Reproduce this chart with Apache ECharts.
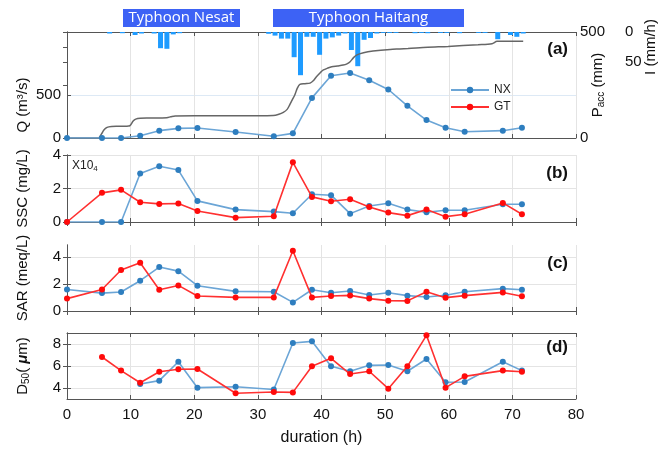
<!DOCTYPE html>
<html>
<head>
<meta charset="utf-8">
<script src="https://cdn.jsdelivr.net/npm/echarts@6/dist/echarts.min.js"></script>
<style>
  html, body { margin: 0; padding: 0; background: #fff; }
  #main { width: 666px; height: 449px; }
</style>
</head>
<body>
<div id="main"></div>
<script>
// sampling times (h)
var timeH = [0, 5.5, 8.5, 11.5, 14.5, 17.5, 20.5, 26.5, 32.5, 35.5, 38.5, 41.5, 44.5, 47.5, 50.5, 53.5, 56.5, 59.5, 62.5, 68.5, 71.5];

// (a) discharge at NX
var qNX = [0, 0, 0, 27, 85, 112, 116, 69, 20, 54, 465, 722, 754, 670, 562, 373, 208, 119, 73, 85, 119];

// (b) SSC x10^4 mg/L
var sscNX = [0, 0, 0, 2.9, 3.33, 3.1, 1.26, 0.74, 0.62, 0.52, 1.66, 1.6, 0.5, 0.96, 1.12, 0.74, 0.58, 0.7, 0.7, 1.06, 1.06];
var sscGT = [0, 1.74, 1.92, 1.18, 1.08, 1.1, 0.66, 0.26, 0.34, 3.56, 1.5, 1.24, 1.36, 0.9, 0.56, 0.38, 0.74, 0.32, 0.46, 1.14, 0.46];

// (c) SAR meq/L
var sarNX = [1.6, 1.33, 1.41, 2.25, 3.26, 2.96, 1.88, 1.46, 1.43, 0.64, 1.58, 1.36, 1.48, 1.19, 1.36, 1.14, 1.04, 1.17, 1.43, 1.66, 1.58];
var sarGT = [0.92, 1.6, 3.04, 3.58, 1.58, 1.9, 1.11, 1.01, 1.01, 4.47, 1.01, 1.11, 1.16, 0.92, 0.77, 0.75, 1.43, 0.99, 1.14, 1.38, 1.09];

// (d) D50 um
var d50NX = [null, null, null, 4.36, 4.67, 6.39, 4.03, 4.12, 3.87, 8.09, 8.24, 5.97, 5.52, 6.06, 6.09, 5.52, 6.64, 4.52, 4.55, 6.39, 5.58];
var d50GT = [null, 6.82, 5.58, 4.48, 5.48, 5.7, 5.73, 3.52, 3.64, 3.6, 5.97, 6.7, 5.27, 5.52, 3.94, 5.97, 8.79, 4.03, 5.06, 5.58, 5.48];

// rainfall intensity (mm/h), hourly bars
var rainT = [6.7, 8.7, 10.7, 11.7, 13.7, 14.7, 15.7, 16.7, 17.7, 31.7, 32.7, 33.7, 34.7, 35.7, 36.7, 37.7, 38.7, 39.7, 40.7, 41.7, 42.7, 43.7, 44.7, 45.7, 46.7, 47.7, 48.7, 49.7, 50.7, 51.7, 54.7, 55.7, 56.7, 58.7, 59.7, 61.7, 64.7, 65.7, 67.7, 69.7, 70.7, 71.7];
var rainI = [2.5, 2, 5, 2.5, 2.5, 27, 28, 4, 2, 3, 6, 11, 11, 42, 72, 8, 8, 38, 11, 9, 6, 2.5, 30, 57, 13, 10, 2.5, 1.5, 1.5, 1.5, 2, 1.5, 2, 1.5, 1.5, 2, 1.5, 1.5, 12, 5, 8, 2.5];

// accumulated precipitation (mm)
var paccT = [0, 4.9, 5.4, 5.8, 6.3, 7, 8, 9.5, 9.9, 10.4, 10.8, 11.5, 13, 15.7, 16.3, 17, 20, 25, 30, 32.4, 33.3, 34, 34.6, 35, 35.4, 35.8, 36.2, 36.6, 37.4, 38.2, 38.7, 39.2, 39.8, 40.3, 41, 41.6, 42.5, 43.4, 44, 44.5, 45, 45.5, 46.6, 48.1, 50.8, 52.3, 53.6, 56.7, 59.9, 64.6, 66.8, 67.6, 71.7];
var paccV = [0, 0, 18, 38, 50, 54, 55, 56, 58, 80, 89, 93, 94, 96, 100, 104, 105, 105, 105, 106, 112, 121, 135, 156, 180, 203, 235, 253, 256, 259, 270, 289, 308, 321, 330, 336, 340, 344, 350, 360, 378, 391, 402, 410, 418, 420, 422, 428, 432, 440, 445, 456, 456];

function pairs(xs, ys) {
    var out = [];
    for (var i = 0; i < xs.length; i++) out.push([xs[i], ys[i]]);
    return out;
}

var FONT = 'Liberation Sans';
var FRAME = '#555';
var GRIDC = '#e4e4e4';
var L = 67, W = 509;

function bottomX(grid, labels) {
    return {
        type: 'value', gridIndex: grid, min: 0, max: 80, interval: 10,
        axisLine: { show: true, lineStyle: { color: FRAME, width: 1 } },
        axisTick: { show: true, inside: true, length: 4, lineStyle: { color: FRAME } },
        axisLabel: { show: labels, color: '#111', fontSize: 15, fontFamily: FONT, margin: 8 },
        splitLine: { show: true, lineStyle: { color: GRIDC } }
    };
}
function topX(grid) {
    return {
        type: 'value', gridIndex: grid, position: 'top', min: 0, max: 80, interval: 10,
        axisLine: { show: true, lineStyle: { color: FRAME } },
        axisTick: { show: true, inside: true, length: 4, lineStyle: { color: FRAME } },
        axisLabel: { show: false }, splitLine: { show: false }
    };
}
function leftY(grid, min, max, vals, name) {
    return {
        type: 'value', gridIndex: grid, position: 'left', min: min, max: max,
        name: name, nameLocation: 'middle', nameGap: 37, nameMoveOverlap: false,
        nameTextStyle: { fontSize: 15, color: '#111', fontFamily: FONT },
        axisLine: { show: true, lineStyle: { color: FRAME } },
        axisTick: { show: true, inside: true, length: 4, customValues: vals, lineStyle: { color: FRAME } },
        axisLabel: { customValues: vals, color: '#111', fontSize: 15, fontFamily: FONT, margin: 6 },
        splitLine: { show: true, lineStyle: { color: GRIDC } }
    };
}
function rightY(grid, min, max, vals) {
    return {
        type: 'value', gridIndex: grid, position: 'right', min: min, max: max,
        axisLine: { show: true, lineStyle: { color: FRAME } },
        axisTick: { show: true, inside: true, length: 4, customValues: vals, lineStyle: { color: FRAME } },
        axisLabel: { show: false }, splitLine: { show: false }
    };
}
function lineSeries(name, xi, yi, ys) {
    var red = name === 'GT';
    return {
        name: name, type: 'line', xAxisIndex: xi, yAxisIndex: yi,
        data: pairs(timeH, ys), symbol: 'circle', symbolSize: 6,
        lineStyle: { color: red ? '#ff3030' : '#6ba5d6', width: 1.6 },
        itemStyle: { color: red ? '#ff0a0a' : '#2e7ebf' },
        z: red ? 4 : 3
    };
}
function tag(txt, y) {
    return {
        type: 'text', x: 568, y: y, z: 100,
        style: { text: txt, fill: '#111', font: 'bold 17px "Liberation Sans"', align: 'right', verticalAlign: 'middle' }
    };
}

var chart = echarts.init(document.getElementById('main'));
var option = {
    animation: false,
    backgroundColor: '#fff',
    textStyle: { fontFamily: FONT },
    legend: {
        data: ['NX', 'GT'], orient: 'vertical', left: 445, top: 79,
        itemWidth: 38, itemHeight: 8, itemGap: 5,
        textStyle: { fontSize: 12, color: '#222', fontFamily: FONT }
    },
    grid: [
        { left: L, width: W, top: 32, height: 106 },   // (a) Pacc
        { left: L, width: W, top: 72, height: 66 },    // (a) Q
        { left: L, width: W, top: 32, height: 30 },    // (a) I
        { left: L, width: W, top: 155, height: 67 },   // (b)
        { left: L, width: W, top: 245, height: 66 },   // (c)
        { left: L, width: W, top: 333, height: 66 }    // (d)
    ],
    xAxis: [
        bottomX(0, false), topX(0),
        { type: 'value', gridIndex: 1, min: 0, max: 80, show: false },
        { type: 'value', gridIndex: 2, min: 0, max: 80, show: false },
        bottomX(3, false), topX(3),
        bottomX(4, false), topX(4),
        Object.assign(bottomX(5, true), {
            name: 'duration (h)', nameLocation: 'middle', nameGap: 31, nameMoveOverlap: false,
            nameTextStyle: { fontSize: 16, color: '#111', fontFamily: FONT }
        }),
        topX(5)
    ],
    yAxis: [
        // 0: Pacc (right)
        {
            type: 'value', gridIndex: 0, position: 'right', min: 0, max: 500,
            name: '{a|P}{b|acc}{a| (mm)}', nameLocation: 'middle', nameGap: 14, nameMoveOverlap: false,
            nameTextStyle: {
                rich: {
                    a: { fontSize: 15, color: '#111', fontFamily: FONT },
                    b: { fontSize: 10, color: '#111', fontFamily: FONT, padding: [0, 0, -8, 0] }
                }
            },
            axisLine: { show: true, lineStyle: { color: FRAME } },
            axisTick: { show: true, inside: true, length: 4, customValues: [0, 250, 500], lineStyle: { color: FRAME } },
            axisLabel: { customValues: [0, 500], color: '#111', fontSize: 15, fontFamily: FONT, margin: 4 },
            splitLine: { show: false }
        },
        // 1: Q (left)
        Object.assign(leftY(1, 0, 765, [0, 500], 'Q (m³/s)'), {
            splitLine: { show: true, lineStyle: { color: '#dde9f5' } }
        }),
        // 2: I (reversed, far right)
        {
            type: 'value', gridIndex: 2, position: 'right', offset: 46, inverse: true, min: 0, max: 50,
            name: 'I (mm/h)', nameLocation: 'middle', nameGap: 21, nameMoveOverlap: false,
            nameTextStyle: { fontSize: 15, color: '#111', fontFamily: FONT },
            axisLine: { show: true, lineStyle: { color: FRAME } },
            axisTick: { show: true, inside: true, length: 4, customValues: [0, 25, 50], lineStyle: { color: FRAME } },
            axisLabel: { customValues: [0, 50], color: '#111', fontSize: 15, fontFamily: FONT, margin: 3, hideOverlap: false },
            splitLine: { show: false }
        },
        leftY(3, 0, 4, [0, 2, 4], 'SSC (mg/L)'), rightY(3, 0, 4, [0, 2, 4]),
        leftY(4, 0, 4.9, [0, 2, 4], 'SAR (meq/L)'), rightY(4, 0, 4.9, [0, 2, 4]),
        Object.assign(leftY(5, 3, 9, [4, 6, 8], '{a|D}{b|50}{a|( }{m|μ}{a|m)}'), {
            nameTextStyle: {
                rich: {
                    a: { fontSize: 15, color: '#111', fontFamily: FONT },
                    b: { fontSize: 10, color: '#111', fontFamily: FONT, padding: [0, 0, -8, 0] },
                    m: { fontSize: 15, color: '#111', fontFamily: FONT, fontWeight: 'bold', fontStyle: 'italic' }
                }
            }
        }),
        rightY(5, 3, 9, [4, 6, 8])
    ],
    series: [
        {
            name: 'Pacc', type: 'line', xAxisIndex: 0, yAxisIndex: 0,
            data: pairs(paccT, paccV), showSymbol: false, smooth: 0.3,
            lineStyle: { color: '#666', width: 1.5 }, z: 2
        },
        {
            name: 'I', type: 'bar', xAxisIndex: 3, yAxisIndex: 2,
            data: pairs(rainT, rainI), barWidth: 5, clip: false,
            itemStyle: { color: '#1e9bff' }
        },
        lineSeries('NX', 2, 1, qNX),
        lineSeries('NX', 4, 3, sscNX), lineSeries('GT', 4, 3, sscGT),
        lineSeries('NX', 6, 5, sarNX), lineSeries('GT', 6, 5, sarGT),
        lineSeries('NX', 8, 7, d50NX), lineSeries('GT', 8, 7, d50GT)
    ],
    graphic: [
        // typhoon periods
        { type: 'rect', shape: { x: 123, y: 9, width: 117, height: 18 }, style: { fill: '#3d62f5' } },
        { type: 'text', x: 181.5, y: 18, style: { text: 'Typhoon Nesat', fill: '#fff', font: '15px "Open Sans"', align: 'center', verticalAlign: 'middle' } },
        { type: 'rect', shape: { x: 273, y: 9, width: 191, height: 18 }, style: { fill: '#3d62f5' } },
        { type: 'text', x: 368.5, y: 18, style: { text: 'Typhoon Haitang', fill: '#fff', font: '15px "Open Sans"', align: 'center', verticalAlign: 'middle' } },
        // panel tags
        tag('(a)', 49), tag('(b)', 173), tag('(c)', 263), tag('(d)', 347),
        // scale note for SSC
        {
            type: 'text', x: 72, y: 160, z: 100,
            style: {
                text: '{a|X10}{b|4}',
                rich: {
                    a: { fontSize: 12, fill: '#222', fontFamily: FONT },
                    b: { fontSize: 8, fill: '#222', fontFamily: FONT, padding: [0, 0, -6, 0] }
                }
            }
        }
    ]
};
chart.setOption(option);
</script>
</body>
</html>
